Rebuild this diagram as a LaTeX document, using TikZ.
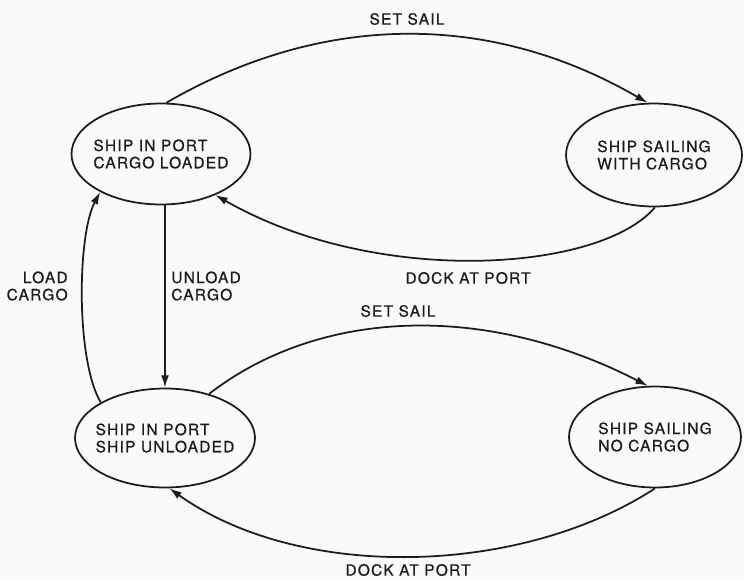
\documentclass[tikz,border=0pt]{standalone}
\usepackage{fontspec}
\setmainfont{TeX Gyre Heros}[LetterSpace=8, FakeBold=0.6]
\usetikzlibrary{arrows.meta, shapes.geometric}
\definecolor{mink}{HTML}{1C1C1C}
\definecolor{mpaper}{HTML}{FAFAF9}
\tikzset{
  state/.style={draw=mink, ellipse, line width=1pt, inner xsep=-14pt, inner ysep=0pt,
                align=left, font=\fontsize{8.8}{9.8}\selectfont, text=mink},
  arr/.style={-{Latex[length=7pt,width=4.5pt]}, line width=1pt, mink},
  lbl/.style={font=\fontsize{8.8}{9.8}\selectfont, text=mink, inner sep=0pt},
}
\begin{document}
\begin{tikzpicture}[x=0.02cm, y=-0.02cm]
  \fill[mpaper] (0,0) rectangle (744,579);
  \useasboundingbox (0,0) rectangle (744,579);
  % states
  \node[state, minimum width=3.58cm, minimum height=2.02cm] (loaded) at (161,154) {SHIP IN PORT\\CARGO LOADED};
  \node[state, minimum width=3.52cm, minimum height=2.06cm] (sailcargo) at (654,155) {SHIP SAILING\\WITH CARGO};
  \node[state, minimum width=3.6cm, minimum height=1.98cm] (unloaded) at (165,438) {SHIP IN PORT\\SHIP UNLOADED};
  \node[state, minimum width=3.44cm, minimum height=2.02cm] (sailempty) at (655,437) {SHIP SAILING\\NO CARGO};

  % labels
  \node[lbl] (sail1) at (407,19) {SET SAIL};
  \node[lbl] (dock1) at (468,278) {DOCK AT PORT};
  \node[lbl] (sail2) at (398,311) {SET SAIL};
  \node[lbl] (dock2) at (408,570) {DOCK AT PORT};
  \node[lbl, anchor=east, align=right] (load) at (68,286) {LOAD\\CARGO};
  \node[lbl, anchor=west, align=left] (unload) at (171,286) {UNLOAD\\CARGO};

  % transitions
  \draw[arr] (loaded.84) .. controls +(157,-91) and +(-157,-91) .. (sailcargo.97);
  \draw[arr] (sailcargo.-89) .. controls +(-55,65) and +(160,92) .. (loaded.-37);
  \draw[arr] (unloaded.45) .. controls +(107,-83) and +(-168,-86) .. (sailempty.98);
  \draw[arr] (sailempty.-90) .. controls +(-135,88) and +(130,93) .. (unloaded.-85);
  \draw[arr] (unloaded.151) .. controls +(-25,-42) and +(-23,43) .. (loaded.212);
  \draw[arr] (unloaded.north |- loaded.south) -- (unloaded.north);
\end{tikzpicture}
\end{document}
